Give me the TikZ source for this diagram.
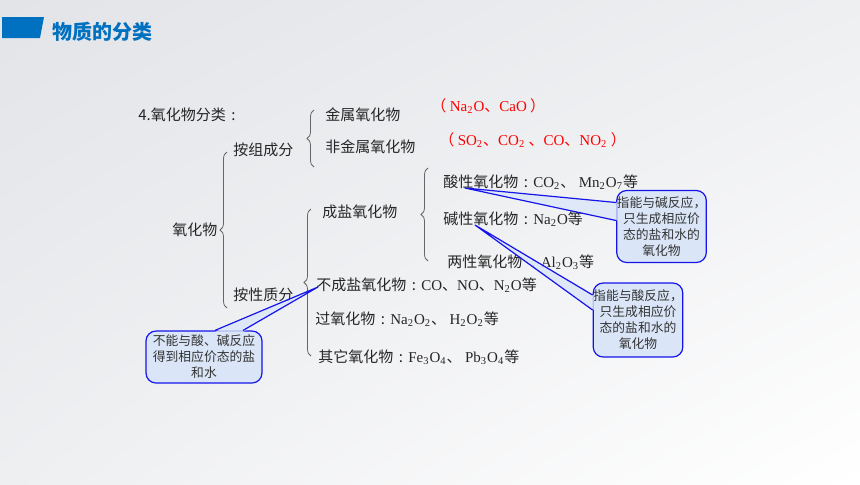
\documentclass[tikz,border=0pt]{standalone}
\usepackage{fontspec}
\setmainfont{Liberation Serif}
\newfontfamily\cjk{Noto Sans CJK SC}
\usetikzlibrary{calc}
\usetikzlibrary{shadings}
\usetikzlibrary{decorations.pathreplacing}
\definecolor{titleblue}{RGB}{0,112,192}
\definecolor{notefill}{RGB}{218,230,247}
\definecolor{noteline}{RGB}{20,20,235}
\definecolor{bgdark}{RGB}{226,228,232}
\definecolor{bgmid}{RGB}{238,239,241}
\newcommand{\fm}[1]{{\rmfamily #1}}
\newcommand{\sbs}[1]{\textsubscript{#1}}
\newcommand{\cln}{\makebox[1em][c]{:}}
\tikzset{
	textstyle/.style={anchor=west, inner sep=0pt, font=\cjk\fontsize{7.5}{9}\selectfont, text=black!85},
	redstyle/.style={textstyle, text=red},
	bracestyle/.style={draw=black!60, line width=0.4pt, decorate, decoration={brace, amplitude=3.5pt, aspect=0.5}},
	notestyle/.style={draw=noteline, fill=notefill, line width=0.6pt, rounded corners=5pt, align=center, inner sep=0pt, text=black!80, font=\cjk\fontsize{6.4}{8}\selectfont},
	wedgestyle/.style={draw=noteline, line width=0.6pt, line join=round}
}

\begin{document}
\begin{tikzpicture}[x=0.5pt, y=-0.5pt]

\useasboundingbox (0,0) rectangle (860,484);
\shade[upper left=bgdark, upper right=bgmid, lower left=bgmid, lower right=white] (0,0) rectangle (860,484);

% header
\fill[titleblue] (2,17) -- (44,17) -- (40,38) -- (2,38) -- cycle;
\node[anchor=west, inner sep=0pt, text=titleblue, font=\cjk\bfseries\fontsize{10}{12}\selectfont] (title) at (52,32) {物质的分类};

\node[textstyle] (intro) at (138,115) {4.氧化物分类\cln};

\node[textstyle] (oxide) at (172,230) {氧化物};
\node[textstyle] (comp)  at (233,150) {按组成分};
\node[textstyle] (prop)  at (233,295) {按性质分};

\node[textstyle] (metal)    at (325,115) {金属氧化物};
\node[textstyle] (nonmetal) at (325,147) {非金属氧化物};
\node[redstyle] (metalex)    at (431,106) {（ \fm{Na\sbs{2}O}、\fm{CaO} ）};
\node[redstyle] (nonmetalex) at (439,140) {（ \fm{SO\sbs{2}}、\fm{CO\sbs{2}} 、\fm{CO}、\fm{NO\sbs{2}} ）};

\node[textstyle] (salt) at (322,212) {成盐氧化物};
\node[textstyle] (acid) at (443,182) {酸性氧化物\cln\fm{CO\sbs{2}}、 \fm{Mn\sbs{2}O\sbs{7}}等};
\node[textstyle] (base) at (443,219) {碱性氧化物\cln\fm{Na\sbs{2}O}等};
\node[textstyle] (amph) at (447,262) {两性氧化物 \cln\fm{Al\sbs{2}O\sbs{3}}等};

\node[textstyle] (nonsalt)  at (316,285) {不成盐氧化物\cln\fm{CO}、\fm{NO}、\fm{N\sbs{2}O}等};
\node[textstyle] (peroxide) at (315,319) {过氧化物\cln\fm{Na\sbs{2}O\sbs{2}}、 \fm{H\sbs{2}O\sbs{2}}等};
\node[textstyle] (other)    at (318,357) {其它氧化物\cln\fm{Fe\sbs{3}O\sbs{4}}、 \fm{Pb\sbs{3}O\sbs{4}}等};

% braces
\draw[bracestyle] (227,308) -- (227,152);
\draw[bracestyle] (314,167) -- (314,110);
\draw[bracestyle] (311,356) -- (311,209);
\draw[bracestyle] (428,261) -- (428,168);

% notes
\node[notestyle, minimum width=44pt, minimum height=36pt] (acidnote) at (661.5,226.5) {指能与碱反应，\\只生成相应价\\态的盐和水的\\氧化物};
\node[notestyle, minimum width=44pt, minimum height=37pt] (basenote) at (638,320) {指能与酸反应，\\只生成相应价\\态的盐和水的\\氧化物};
\node[notestyle, minimum width=58pt, minimum height=26pt] (nonsaltnote) at (204,357) {不能与酸、碱反应\\得到相应价态的盐\\和水};

\coordinate (acidtip) at (465,188);
\coordinate (acid1) at ($(acidnote.west)+(0,-24)$);
\coordinate (acid2) at ($(acidnote.west)+(0,-6)$);
\fill[notefill, fill opacity=0.8] (acidtip) -- ($(acid1)+(1.5,0)$) -- ($(acid2)+(1.5,0)$) -- cycle;
\draw[wedgestyle] (acid1) -- (acidtip) -- (acid2);

\coordinate (basetip) at (475,225);
\coordinate (base1) at ($(basenote.west)+(0,-25)$);
\coordinate (base2) at ($(basenote.west)+(0,-10)$);
\fill[notefill, fill opacity=0.8] (basetip) -- ($(base1)+(1.5,0)$) -- ($(base2)+(1.5,0)$) -- cycle;
\draw[wedgestyle] (base1) -- (basetip) -- (base2);

\coordinate (nonsalttip) at (318,287);
\coordinate (nonsalt1) at ($(nonsaltnote.north)+(11,0)$);
\coordinate (nonsalt2) at ($(nonsaltnote.north)+(39,0)$);
\fill[notefill, fill opacity=0.8] (nonsalttip) -- ($(nonsalt1)+(0,1.5)$) -- ($(nonsalt2)+(0,1.5)$) -- cycle;
\draw[wedgestyle] (nonsalt1) -- (nonsalttip) -- (nonsalt2);
\end{tikzpicture}
\end{document}
